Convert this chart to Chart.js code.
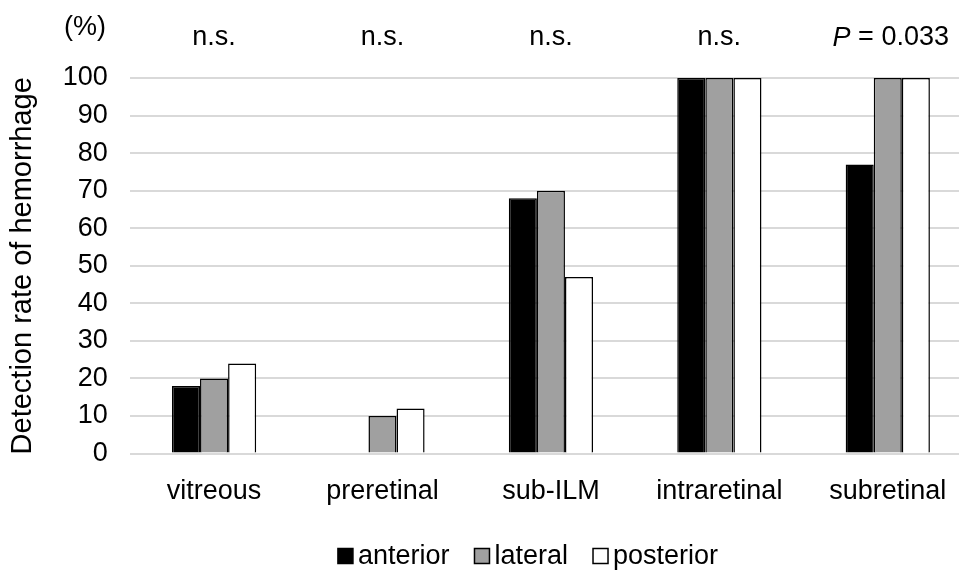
<!DOCTYPE html>
<html lang="en">
<head>
    <meta charset="UTF-8">
    <title>Detection rate of hemorrhage</title>
    <script src="https://cdn.jsdelivr.net/npm/chart.js"></script>
    <style>
        html, body {
            margin: 0;
            padding: 0;
            background: #fff;
            overflow: hidden;
        }
        .chart-container {
            width: 980px;
            height: 572px;
        }
    </style>
</head>
<body>
    <div class="chart-container">
        <canvas id="hemorrhageChart"></canvas>
    </div>

    <script>
        // data
        const categories = ['vitreous', 'preretinal', 'sub-ILM', 'intraretinal', 'subretinal'];
        const seriesNames = ['anterior', 'lateral', 'posterior'];
        const anterior = [18, 0, 68, 100, 77];
        const lateral = [20, 10, 70, 100, 100];
        const posterior = [24, 12, 47, 100, 100];
        const significance = ['n.s.', 'n.s.', 'n.s.', 'n.s.', 'P = 0.033'];
        const yTicks = [0, 10, 20, 30, 40, 50, 60, 70, 80, 90, 100];

        const FONT = '"Liberation Sans", Arial, sans-serif';
        const FS = 27;
        const fillColors = ['#000000', '#a0a0a0', '#ffffff'];

        // texts above the plot and the legend at the bottom
        const extrasPlugin = {
            id: 'extras',
            afterDraw(chart) {
                const ctx = chart.ctx;
                const x = chart.scales.x;
                ctx.save();
                ctx.fillStyle = '#000';
                ctx.textBaseline = 'middle';
                ctx.font = FS + 'px ' + FONT;
                ctx.textAlign = 'left';
                ctx.fillText('(%)', 64, 28);

                significance.forEach((txt, i) => {
                    const cx = x.getPixelForValue(i);
                    if (txt.startsWith('P')) {
                        ctx.font = 'italic ' + FS + 'px ' + FONT;
                        const wP = ctx.measureText('P').width;
                        ctx.font = FS + 'px ' + FONT;
                        const rest = txt.slice(1);
                        const wR = ctx.measureText(rest).width;
                        let sx = cx - (wP + wR) / 2 + 3;
                        ctx.font = 'italic ' + FS + 'px ' + FONT;
                        ctx.fillText('P', sx, 38);
                        ctx.font = FS + 'px ' + FONT;
                        ctx.fillText(rest, sx + wP, 38);
                    } else {
                        ctx.font = FS + 'px ' + FONT;
                        ctx.textAlign = 'center';
                        ctx.fillText(txt, cx, 38);
                        ctx.textAlign = 'left';
                    }
                });

                // legend
                ctx.font = FS + 'px ' + FONT;
                const box = 15, gapText = 5, gapItem = 25;
                let total = 0;
                seriesNames.forEach((n, i) => {
                    total += box + gapText + ctx.measureText(n).width;
                    if (i < seriesNames.length - 1) total += gapItem;
                });
                let lx = 528 - total / 2;
                const ly = 556;
                chart.data.datasets.forEach((ds) => {
                    ctx.fillStyle = ds.backgroundColor;
                    ctx.fillRect(lx, ly - box / 2, box, box);
                    ctx.strokeStyle = '#000';
                    ctx.lineWidth = 1.5;
                    ctx.strokeRect(lx, ly - box / 2, box, box);
                    ctx.fillStyle = '#000';
                    ctx.fillText(ds.label, lx + box + gapText, ly + 1);
                    lx += box + gapText + ctx.measureText(ds.label).width + gapItem;
                });
                ctx.restore();
            }
        };

        const ctx = document.getElementById('hemorrhageChart').getContext('2d');
        const hemorrhageChart = new Chart(ctx, {
            type: 'bar',
            data: {
                labels: categories,
                datasets: [anterior, lateral, posterior].map((vals, i) => ({
                    label: seriesNames[i],
                    data: vals,
                    backgroundColor: fillColors[i],
                    borderColor: '#000000',
                    borderWidth: 1.5,
                    categoryPercentage: 0.5,
                    barPercentage: 1.0
                }))
            },
            options: {
                responsive: true,
                maintainAspectRatio: false,
                animation: false,
                layout: {
                    padding: { top: 78, left: 6, right: 8, bottom: 42 }
                },
                plugins: {
                    legend: { display: false },
                    tooltip: { enabled: false }
                },
                scales: {
                    x: {
                        grid: { display: false, drawTicks: false },
                        border: { display: false },
                        ticks: {
                            color: '#000',
                            padding: 22,
                            font: { family: FONT, size: FS }
                        }
                    },
                    y: {
                        min: 0,
                        max: 100,
                        afterBuildTicks(scale) {
                            scale.ticks = yTicks.map(v => ({ value: v }));
                        },
                        grid: { color: '#d9d9d9', lineWidth: 2, drawTicks: false },
                        border: { display: false },
                        ticks: {
                            color: '#000',
                            padding: 22,
                            font: { family: FONT, size: FS }
                        },
                        title: {
                            display: true,
                            text: 'Detection rate of hemorrhage',
                            color: '#000',
                            padding: { top: 0, bottom: 0 },
                            font: { family: FONT, size: 29 }
                        }
                    }
                }
            },
            plugins: [extrasPlugin]
        });
    </script>
</body>
</html>
